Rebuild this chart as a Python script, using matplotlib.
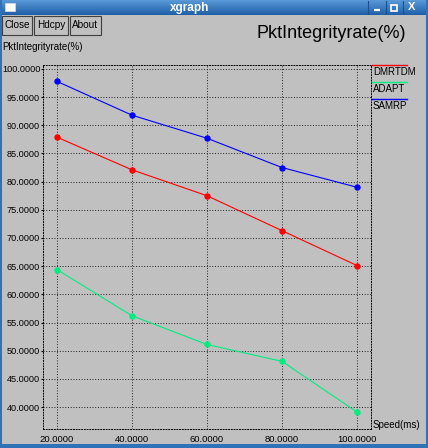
import numpy as np
import matplotlib
import matplotlib.pyplot as plt
from matplotlib.patches import Rectangle

matplotlib.use("Agg")

# data
SPEED = [20, 40, 60, 80, 100]
DMRTDM = [87.9, 82.1, 77.5, 71.3, 65.1]
ADAPT = [64.4, 56.2, 51.1, 48.1, 39.1]
SAMRP = [97.8, 91.8, 87.7, 82.5, 79.0]
Y_TICKS = [40, 45, 50, 55, 60, 65, 70, 75, 80, 85, 90, 95, 100]

W, H = 428, 448
BG = "#c0c0c0"
BLUE_BAR = "#2f72b8"

plt.rcParams['font.family'] = ['Liberation Sans', 'DejaVu Sans']


def fx(x):
    return x / W


def fy(y):
    return 1 - y / H


fig = plt.figure(figsize=(W / 100, H / 100), dpi=100, facecolor=BG)

# window decoration: title bar with gradient
bar = fig.add_axes([0, fy(15), 1, 15 / H])
grad = np.linspace(0, 1, 50).reshape(-1, 1)
bar.imshow(grad, aspect='auto', cmap=matplotlib.colors.LinearSegmentedColormap.from_list(
    "tb", ["#5a9ad8", "#1f5fa8"]), extent=[0, W, 15, 0])
bar.set_xlim(0, W)
bar.set_ylim(15, 0)
bar.axis('off')
bar.add_patch(Rectangle((5, 3), 10, 8, facecolor='white', edgecolor='#dddddd', lw=0.5))
bar.text(190, 7.5, "xgraph", color='white', fontsize=8.5, fontweight='bold',
         ha='center', va='center')
for x0 in (368, 386, 403):
    bar.plot([x0, x0], [1, 14], color='#1a4f90', lw=0.8)
bar.plot([374, 380], [10.5, 10.5], color='white', lw=1.6, solid_capstyle='butt')
bar.add_patch(Rectangle((391, 5), 6, 6, facecolor='none', edgecolor='white', lw=1.2))
bar.text(412, 7.5, "X", color='white', fontsize=8, fontweight='bold', ha='center', va='center')

# borders
fig.patches.append(Rectangle((0, 0), 1, 4 / H, transform=fig.transFigure,
                             facecolor=BLUE_BAR, edgecolor='none'))
fig.patches.append(Rectangle((0, 0), 1.5 / W, 1, transform=fig.transFigure,
                             facecolor=BLUE_BAR, edgecolor='none'))
fig.patches.append(Rectangle((1 - 2.5 / W, 0), 2.5 / W, 1, transform=fig.transFigure,
                             facecolor=BLUE_BAR, edgecolor='none'))

# buttons
for label, x0, x1 in [("Close", 2, 32), ("Hdcpy", 34, 68), ("About", 70, 101)]:
    fig.patches.append(Rectangle((fx(x0), fy(35)), (x1 - x0) / W, 19 / H,
                                 transform=fig.transFigure, facecolor=BG,
                                 edgecolor='#404040', lw=0.8))
    fig.text(fx((x0 + x1) / 2), fy(25.5), label, fontsize=7.2, ha='center', va='center')

fig.text(fx(331), fy(33), "PktIntegrityrate(%)", fontsize=13, ha='center', va='center')
fig.text(fx(2), fy(47), "PktIntegrityrate(%)", fontsize=7, ha='left', va='center')

# plot area
ax = fig.add_axes([fx(43), fy(429), (371 - 43) / W, (429 - 65) / H])
ax.set_facecolor('none')
ax.set_xlim(16.3, 103.7)
ax.set_ylim(36.1, 100.7)

dots = (0, (1, 1.8))
ax.set_xticks(SPEED)
ax.set_xticklabels([f"{s:.4f}" for s in SPEED])
ax.set_yticks(Y_TICKS)
ax.set_yticklabels([f"{v:.4f}" for v in Y_TICKS])
ax.grid(True, color='#202020', linestyle=dots, linewidth=0.7)
for sp in ax.spines.values():
    sp.set_linestyle(dots)
    sp.set_linewidth(0.7)
ax.tick_params(axis='y', length=1.5, pad=0.5, labelsize=6.6)
ax.tick_params(axis='x', length=0, pad=4, labelsize=6.8)

ax.plot(SPEED, DMRTDM, color='#ff0000', lw=0.8, marker='o', markersize=3.6, label='DMRTDM')
ax.plot(SPEED, ADAPT, color='#00ee80', lw=0.8, marker='o', markersize=3.6, label='ADAPT')
ax.plot(SPEED, SAMRP, color='#0000ff', lw=0.8, marker='o', markersize=3.6, label='SAMRP')

# xgraph style legend on the right
for i, (name, col) in enumerate([("DMRTDM", '#ff0000'), ("ADAPT", '#00ee80'),
                                 ("SAMRP", '#0000ff')]):
    y = 65 + i * 17
    fig.lines.append(plt.Line2D([fx(372), fx(407)], [fy(y), fy(y)],
                                transform=fig.transFigure, color=col, lw=1))
    fig.text(fx(373), fy(y + 7), name, fontsize=7, ha='left', va='center')

fig.text(fx(373), fy(425), "Speed(ms)", fontsize=7, ha='left', va='center')

fig.savefig("out.png", dpi=100, facecolor=BG)
